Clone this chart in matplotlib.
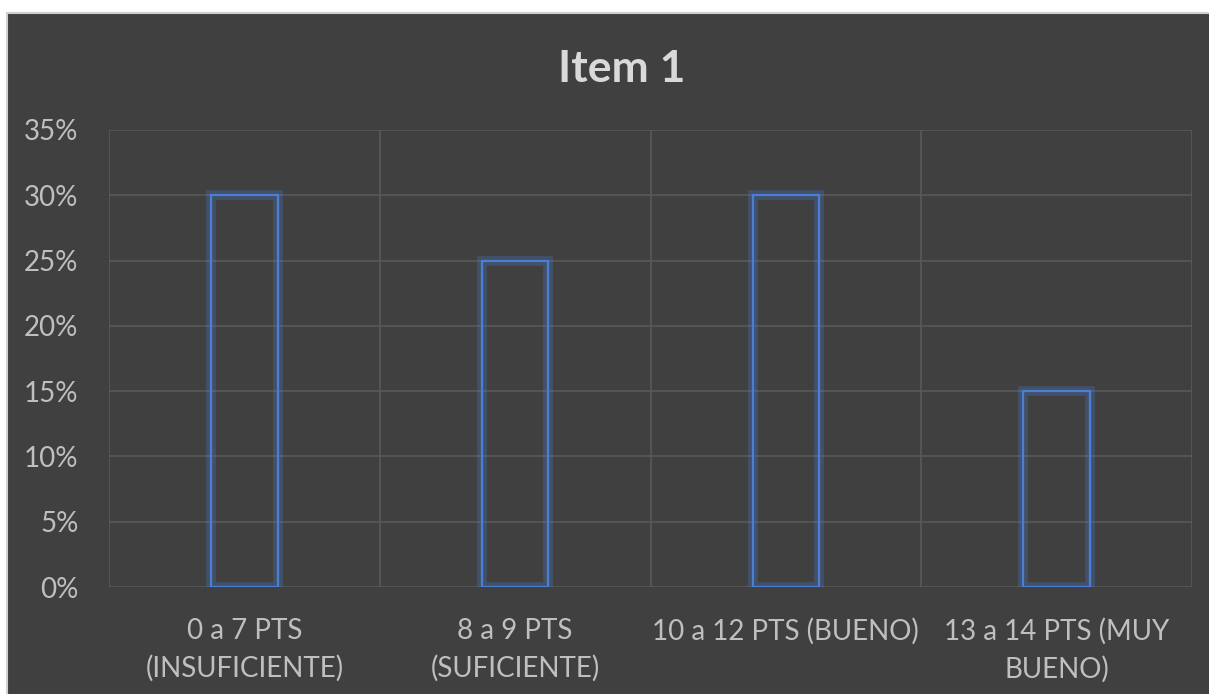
import matplotlib
matplotlib.use("Agg")
import matplotlib.pyplot as plt
from matplotlib.patches import Rectangle
from matplotlib.ticker import PercentFormatter, MultipleLocator

categories = ["0 a 7 PTS\n(INSUFICIENTE)", "8 a 9 PTS\n(SUFICIENTE)",
              "10 a 12 PTS (BUENO)", "13 a 14 PTS (MUY\nBUENO)"]
values = [30, 25, 30, 15]
title = "Item 1"

plt.rcParams['font.family'] = ['Lato', 'DejaVu Sans']

BG = "#404040"
GRID = "#595959"
TXT = "#BFBFBF"
BLUE = "#4A7FD6"

fig = plt.figure(figsize=(12.09, 6.94), dpi=100)
fig.patch.set_facecolor("white")
fig.patches.append(Rectangle((7/1209, -0.01), 1.02, 1 - 13/694 + 0.01,
                             transform=fig.transFigure, facecolor=BG,
                             edgecolor="#D0D0D0", linewidth=1.5, zorder=-5))

ax = fig.add_axes([109/1209, 1 - 587/694, (1192-109)/1209, (587-130)/694])
ax.set_facecolor(BG)
x = list(range(len(categories)))
w = 0.245
# glow
ax.bar(x, values, width=w, facecolor="none", edgecolor=BLUE, linewidth=7,
       alpha=0.28, zorder=2)
ax.bar(x, values, width=w, facecolor="none", edgecolor=BLUE, linewidth=1.6,
       zorder=3)

ax.set_xlim(-0.5, len(categories) - 0.5)
ax.set_ylim(0, 35)
ax.yaxis.set_major_locator(MultipleLocator(5))
ax.yaxis.set_major_formatter(PercentFormatter(decimals=0))
ax.set_xticks(x)
ax.set_xticklabels(categories)
ax.set_xticks([i + 0.5 for i in range(-1, len(categories))], minor=True)
ax.grid(True, axis='y', which='major', color=GRID, linewidth=1.2)
ax.grid(True, axis='x', which='minor', color=GRID, linewidth=1.2)
ax.set_axisbelow(True)
for s in ax.spines.values():
    s.set_visible(False)
ax.tick_params(axis='both', which='both', length=0, colors=TXT, labelsize=20)
ax.tick_params(axis='y', pad=22)
ax.tick_params(axis='x', pad=22)
for lab in ax.get_xticklabels():
    lab.set_linespacing(1.5)

fig.text(622/1209, 1 - 69/694, title, ha='center', va='center',
         fontsize=32, fontweight='bold', color="#D9D9D9")

fig.savefig("out.png", dpi=100, facecolor=fig.get_facecolor())
